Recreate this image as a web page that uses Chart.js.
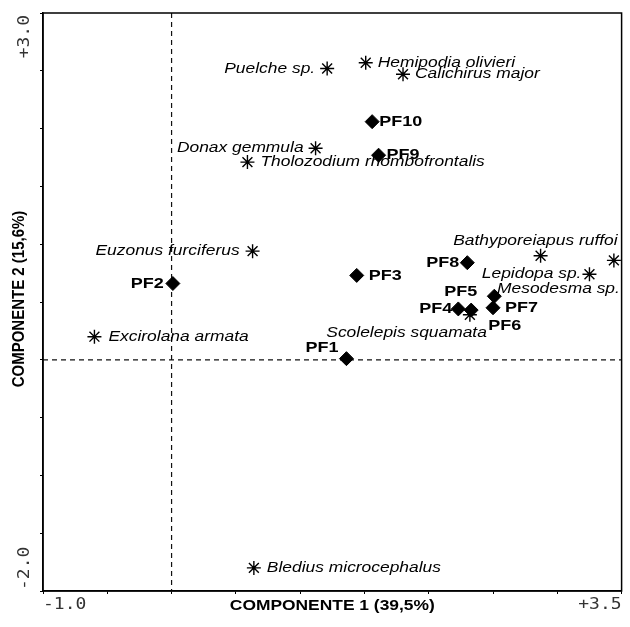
<!DOCTYPE html>
<html>
<head>
<meta charset="utf-8">
<script src="https://cdn.jsdelivr.net/npm/chart.js@4.4.1/dist/chart.umd.min.js"></script>
<style>
  html, body { margin: 0; padding: 0; background: #fff; }
  #wrap { width: 630px; height: 627px; }
</style>
</head>
<body>
<div id="wrap"><canvas id="biplot"></canvas></div>
<script>
// Sampling sites (diamonds)
const siteNames = ['PF1', 'PF2', 'PF3', 'PF4', 'PF5', 'PF6', 'PF7', 'PF8', 'PF9', 'PF10'];
const siteX = [1.36, 0.01, 1.44, 2.23, 2.51, 2.33, 2.50, 2.30, 1.61, 1.56];
const siteY = [0.01, 0.66, 0.73, 0.44, 0.55, 0.43, 0.45, 0.84, 1.77, 2.06];

// Species (asterisks)
const speciesNames = ['Puelche sp.', 'Hemipodia olivieri', 'Calichirus major', 'Donax gemmula',
  'Tholozodium rhombofrontalis', 'Euzonus furciferus', 'Excirolana armata', 'Scolelepis squamata',
  'Bathyporeiapus ruffoi', 'Lepidopa sp.', 'Mesodesma sp.', 'Bledius microcephalus'];
const speciesX = [1.21, 1.51, 1.80, 1.12, 0.59, 0.63, -0.60, 2.32, 2.87, 3.25, 3.44, 0.64];
const speciesY = [2.52, 2.57, 2.47, 1.83, 1.71, 0.94, 0.20, 0.39, 0.90, 0.74, 0.86, -1.80];

// Axis end labels
const xTickLabels = ['-1.0', '+3.5'];
const yTickLabels = ['-2.0', '+3.0'];
const xTitle = 'COMPONENTE 1 (39,5%)';
const yTitle = 'COMPONENTE 2 (15,6%)';

// label placement relative to the marker (pixels)
const labelPos = {
  'PF1': { dx: -8, dy: -11, align: 'right' },
  'PF2': { dx: -9, dy: 0, align: 'right' },
  'PF3': { dx: 12, dy: 0, align: 'left' },
  'PF4': { dx: -6, dy: 0, align: 'right' },
  'PF5': { dx: -17, dy: -4, align: 'right' },
  'PF6': { dx: 17, dy: 16, align: 'left' },
  'PF7': { dx: 12, dy: 0, align: 'left' },
  'PF8': { dx: -8, dy: 0, align: 'right' },
  'PF9': { dx: 8, dy: 0, align: 'left' },
  'PF10': { dx: 7, dy: 0, align: 'left' },
  'Puelche sp.': { dx: -12, dy: 0, align: 'right' },
  'Hemipodia olivieri': { dx: 12, dy: 0, align: 'left' },
  'Calichirus major': { dx: 12, dy: 0, align: 'left' },
  'Donax gemmula': { dx: -12, dy: 0, align: 'right' },
  'Tholozodium rhombofrontalis': { dx: 13, dy: 0, align: 'left' },
  'Euzonus furciferus': { dx: -13, dy: 0, align: 'right' },
  'Excirolana armata': { dx: 14, dy: 0, align: 'left' },
  'Scolelepis squamata': { dx: 17, dy: 18, align: 'right' },
  'Bathyporeiapus ruffoi': { dx: 77, dy: -15, align: 'right' },
  'Lepidopa sp.': { dx: -8, dy: 0, align: 'right' },
  'Mesodesma sp.': { dx: 6, dy: 29, align: 'right' },
  'Bledius microcephalus': { dx: 13, dy: 0, align: 'left' }
};

const STRETCH = 1.2; // the original picture is wide-stretched

function stretchedText(ctx, text, x, y, align, sx) {
  ctx.save();
  ctx.translate(x, y);
  ctx.scale(sx, 1);
  ctx.textAlign = align;
  ctx.fillText(text, 0, 0);
  ctx.restore();
}

const biplotDecor = {
  id: 'biplotDecor',
  beforeDatasetsDraw(chart) {
    const { ctx, chartArea: a, scales } = chart;
    const x0 = scales.x.getPixelForValue(0);
    const y0 = scales.y.getPixelForValue(0);
    ctx.save();
    ctx.strokeStyle = '#111';
    ctx.lineWidth = 1.2;
    ctx.setLineDash([5, 4]);
    ctx.beginPath();
    ctx.moveTo(x0, a.top); ctx.lineTo(x0, a.bottom);
    ctx.moveTo(a.left, y0); ctx.lineTo(a.right, y0);
    ctx.stroke();
    ctx.setLineDash([]);
    ctx.lineWidth = 1.5;
    ctx.strokeStyle = '#000';
    ctx.strokeRect(a.left, a.top, a.right - a.left, a.bottom - a.top);
    ctx.restore();
  },
  afterDatasetsDraw(chart) {
    const { ctx, chartArea: a, scales } = chart;
    ctx.save();
    ctx.fillStyle = '#000';
    ctx.textBaseline = 'middle';

    // point labels
    chart.data.datasets.forEach((ds, di) => {
      const meta = chart.getDatasetMeta(di);
      ctx.font = di === 0 ? 'bold 15px "Liberation Sans", Arial, sans-serif'
                          : 'italic 14.5px "Liberation Sans", Arial, sans-serif';
      meta.data.forEach((pt, i) => {
        const name = ds.names[i];
        const p = labelPos[name];
        stretchedText(ctx, name, pt.x + p.dx, pt.y + p.dy, p.align, STRETCH);
      });
    });

    // axis end labels
    ctx.fillStyle = '#333';
    ctx.font = '15px "DejaVu Sans Mono", monospace';
    const ly = a.bottom + 14;
    stretchedText(ctx, xTickLabels[0], scales.x.getPixelForValue(scales.x.min), ly, 'left', 1.2);
    stretchedText(ctx, xTickLabels[1], scales.x.getPixelForValue(scales.x.max), ly, 'right', 1.2);
    [[yTickLabels[0], scales.y.min, 'left', -1], [yTickLabels[1], scales.y.max, 'right', 2]].forEach(([t, v, al, off]) => {
      ctx.save();
      ctx.translate(25, scales.y.getPixelForValue(v) + off);
      ctx.rotate(-Math.PI / 2);
      ctx.scale(1.2, 1);
      ctx.textAlign = al;
      ctx.fillText(t, 0, 0);
      ctx.restore();
    });

    // axis titles
    ctx.fillStyle = '#000';
    ctx.font = 'bold 14.5px "Liberation Sans", Arial, sans-serif';
    stretchedText(ctx, xTitle, (a.left + a.right) / 2, a.bottom + 15, 'center', STRETCH);
    ctx.save();
    ctx.translate(19, (a.top + a.bottom) / 2 - 3);
    ctx.rotate(-Math.PI / 2);
    ctx.scale(1, 1.15);
    ctx.font = 'bold 15px "Liberation Sans", Arial, sans-serif';
    ctx.textAlign = 'center';
    ctx.fillText(yTitle, 0, 0);
    ctx.restore();
    ctx.restore();
  }
};

const tickGrid = {
  display: true,
  drawOnChartArea: false,
  drawTicks: true,
  tickLength: 3,
  color: '#000',
  lineWidth: 1
};

new Chart(document.getElementById('biplot'), {
  type: 'scatter',
  data: {
    datasets: [
      {
        label: 'Sites',
        names: siteNames,
        data: siteX.map((x, i) => ({ x: x, y: siteY[i] })),
        pointStyle: 'rectRot',
        pointRadius: 7,
        backgroundColor: '#000',
        borderColor: '#000',
        borderWidth: 1
      },
      {
        label: 'Species',
        names: speciesNames,
        data: speciesX.map((x, i) => ({ x: x, y: speciesY[i] })),
        pointStyle: 'star',
        pointRadius: 7,
        backgroundColor: 'rgba(0,0,0,0)',
        borderColor: '#000',
        borderWidth: 1.4
      }
    ]
  },
  options: {
    responsive: true,
    maintainAspectRatio: false,
    animation: false,
    events: [],
    layout: { padding: { top: 13, right: 3, left: 0, bottom: 0 } },
    plugins: {
      legend: { display: false },
      tooltip: { enabled: false }
    },
    scales: {
      x: {
        type: 'linear',
        min: -1,
        max: 3.5,
        ticks: { stepSize: 0.5, display: false },
        grid: tickGrid,
        border: { display: true, color: '#000', width: 1.5 },
        afterFit(scale) { scale.height = 36; }
      },
      y: {
        type: 'linear',
        min: -2,
        max: 3,
        ticks: { stepSize: 0.5, display: false },
        grid: tickGrid,
        border: { display: true, color: '#000', width: 1.5 },
        afterFit(scale) { scale.width = 43; }
      }
    }
  },
  plugins: [biplotDecor]
});
</script>
</body>
</html>
